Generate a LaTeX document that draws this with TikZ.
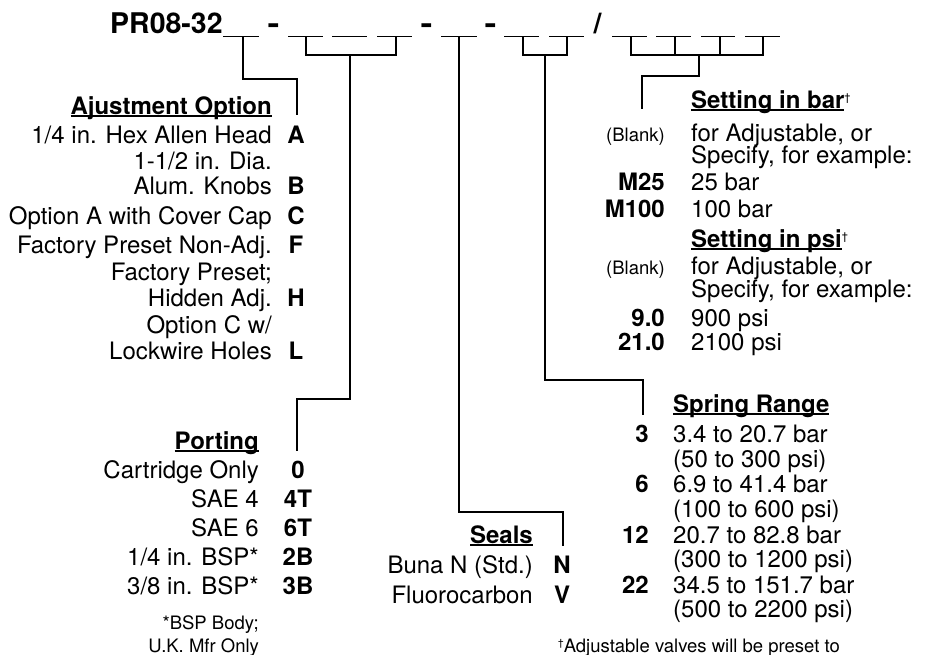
\documentclass[tikz,border=0pt]{standalone}
\usepackage{fontspec}
\setmainfont{TeX Gyre Heros}
\newsavebox{\myulbox}
\newcommand\hul[1]{\sbox{\myulbox}{#1}\rlap{\rule[-2.6pt]{\wd\myulbox}{1.3pt}}\usebox{\myulbox}}
\newcommand\dg{\raisebox{7pt}{\fontsize{11}{11}\selectfont\mdseries †}}
\tikzset{
  txt/.style={inner sep=0pt, font=\fontsize{24}{28}\selectfont},
  rt/.style={txt, anchor=base east},
  lt/.style={txt, anchor=base west},
  code/.style={inner sep=0pt, font=\fontsize{24}{28}\selectfont\bfseries, anchor=base},
  coder/.style={code, anchor=base east},
  head/.style={inner sep=0pt, font=\fontsize{24}{28}\selectfont\bfseries},
  small/.style={inner sep=0pt, font=\fontsize{18.5}{22}\selectfont},
  ttl/.style={inner sep=0pt, font=\fontsize{28.5}{32}\selectfont\bfseries},
  conn/.style={line width=1.2pt},
  slot/.style={line width=1.3pt},
}
\begin{document}
\begin{tikzpicture}[x=1pt,y=-1pt]
\fill[white] (0,0) rectangle (930,654);
\useasboundingbox (0,0) rectangle (930,654);

% title
\node[ttl, anchor=base west] (title) at (110,33) {PR08-32};
\node[ttl, anchor=base, xscale=1.25] (d1) at (273.5,33) {-};
\node[ttl, anchor=base, xscale=1.25] (d2) at (426.5,33) {-};
\node[ttl, anchor=base, xscale=1.25] (d3) at (490.5,33) {-};
\node[ttl, anchor=base] (sl) at (597.5,33) {/};

% slots
\foreach \a/\b in {223/259,288/323,332/367,377/412,441/477,504/539,549/584,612/647,656/691,701/735,745/780}
  \draw[slot] (\a,36.5) -- (\b,36.5);

% brackets
\draw[conn] (306,36.5) -- (306,55) -- (396,55) -- (396,36.5);
\draw[conn] (523,36.5) -- (523,55) -- (567,55) -- (567,36.5);
\draw[conn] (631,36.5) -- (631,55) -- (763,55) -- (763,36.5);
\draw[conn] (675,36.5) -- (675,55);
\draw[conn] (720,36.5) -- (720,55);

% connector coordinates
\coordinate (s1) at (243,36.5);
\coordinate (k1) at (297,79);
\coordinate (eA) at (297,115);
\coordinate (s2) at (350,55);
\coordinate (k2) at (297,399);
\coordinate (e0) at (297,451);
\coordinate (s3) at (459,36.5);
\coordinate (k3) at (563,512);
\coordinate (eN) at (563,546);
\coordinate (s4) at (545,55);
\coordinate (k4) at (643,380);
\coordinate (e3) at (643,415);
\coordinate (s5) at (699,55);
\coordinate (k5) at (642,76);
\coordinate (eBar) at (642,109);

\draw[conn] (s1) |- (k1) -- (eA);
\draw[conn] (s2) |- (k2) -- (e0);
\draw[conn] (s3) |- (k3) -- (eN);
\draw[conn] (s4) |- (k4) -- (e3);
\draw[conn] (s5) |- (k5) -- (eBar);

% Adjustment option
\node[head, anchor=base east] (hAdj) at (272,114) {\hul{Ajustment Option}};
\node[rt] (a1) at (272,143) {1/4 in. Hex Allen Head};
\node[code] (cA) at (296,143) {A};
\node[rt] (a2) at (272,169) {1-1/2 in. Dia.};
\node[rt] (a3) at (272,194) {Alum. Knobs};
\node[code] (cB) at (296,194) {B};
\node[rt] (a4) at (272,224) {Option A with Cover Cap};
\node[code] (cC) at (296,224) {C};
\node[rt] (a5) at (272,253) {Factory Preset Non-Adj.};
\node[code] (cF) at (296,253) {F};
\node[rt] (a6) at (272,280) {Factory Preset;};
\node[rt] (a7) at (272,306) {Hidden Adj.};
\node[code] (cH) at (296,306) {H};
\node[rt] (a8) at (272,333) {Option C w/};
\node[rt] (a9) at (272,359) {Lockwire Holes};
\node[code] (cL) at (296,359) {L};

% Porting
\node[head, anchor=base east] (hPort) at (259,449) {\hul{Porting}};
\node[rt] (p1) at (259,478) {Cartridge Only};
\node[code] (c0) at (298,478) {0};
\node[rt] (p2) at (259,507) {SAE 4};
\node[code] (c4T) at (298,507) {4T};
\node[rt] (p3) at (259,536) {SAE 6};
\node[code] (c6T) at (298,536) {6T};
\node[rt] (p4) at (259,565) {1/4 in. BSP*};
\node[code] (c2B) at (298,565) {2B};
\node[rt] (p5) at (259,594) {3/8 in. BSP*};
\node[code] (c3B) at (298,594) {3B};
\node[small, anchor=base east] (pf1) at (259,629) {*BSP Body;};
\node[small, anchor=base east] (pf2) at (259,652) {U.K. Mfr Only};

% Seals
\node[head, anchor=base east] (hSeal) at (533,543) {\hul{Seals}};
\node[rt] (se1) at (533,573) {Buna N (Std.)};
\node[code] (cN) at (562,573) {N};
\node[rt] (se2) at (533,603) {Fluorocarbon};
\node[code] (cV) at (562,603) {V};

% Spring range
\node[head, anchor=base west] (hSpr) at (673,412) {\hul{Spring Range}};
\node[coder] (c3) at (649,442) {3};
\node[lt] (r1) at (673,442) {3.4 to 20.7 bar};
\node[lt] (r1b) at (673,467) {(50 to 300 psi)};
\node[coder] (c6) at (649,492) {6};
\node[lt] (r2) at (673,492) {6.9 to 41.4 bar};
\node[lt] (r2b) at (673,517) {(100 to 600 psi)};
\node[coder] (c12) at (649,543) {12};
\node[lt] (r3) at (673,543) {20.7 to 82.8 bar};
\node[lt] (r3b) at (673,567) {(300 to 1200 psi)};
\node[coder] (c22) at (649,593) {22};
\node[lt] (r4) at (673,593) {34.5 to 151.7 bar};
\node[lt] (r4b) at (673,617) {(500 to 2200 psi)};
\node[small, anchor=base west] (fn) at (558,652) {\raisebox{6pt}{\fontsize{10}{10}\selectfont †}Adjustable valves will be preset to};

% Setting in bar
\node[head, anchor=base west] (hBar) at (691,108) {\hul{Setting in bar}\dg};
\node[small, anchor=base east] (bl1) at (665,141) {(Blank)};
\node[lt] (b1) at (691,141) {for Adjustable, or};
\node[lt] (b2) at (691,163) {Specify, for example:};
\node[coder] (cM25) at (665,190) {M25};
\node[lt] (b3) at (691,190) {25 bar};
\node[coder] (cM100) at (665,217) {M100};
\node[lt] (b4) at (691,217) {100 bar};

% Setting in psi
\node[head, anchor=base west] (hPsi) at (691,247) {\hul{Setting in psi}\dg};
\node[small, anchor=base east] (bl2) at (665,274) {(Blank)};
\node[lt] (q1) at (691,274) {for Adjustable, or};
\node[lt] (q2) at (691,297) {Specify, for example:};
\node[coder] (c90) at (665,326) {9.0};
\node[lt] (q3) at (691,326) {900 psi};
\node[coder] (c210) at (665,350) {21.0};
\node[lt] (q4) at (691,350) {2100 psi};
\end{tikzpicture}
\end{document}
